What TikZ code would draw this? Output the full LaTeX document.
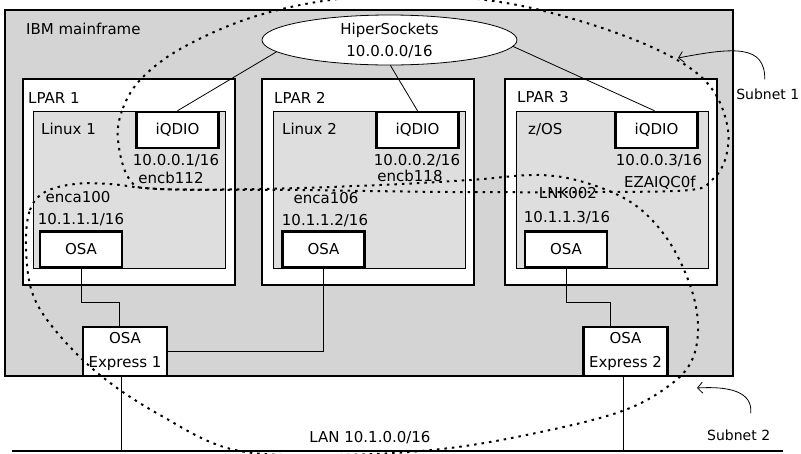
\documentclass[tikz,border=0pt]{standalone}
\usepackage{fontspec}
\setmainfont{DejaVu Sans}
\usepackage{tikz}
\usetikzlibrary{arrows.meta,positioning,shapes.geometric}
\definecolor{framegray}{RGB}{212,212,212}
\definecolor{osgray}{RGB}{222,222,222}

\begin{document}
\begin{tikzpicture}[
 x=1pt,y=-1pt,
 font=\fontsize{15}{18}\selectfont,
 mainbox/.style={draw,line width=2.5pt,fill=framegray},
 lpar/.style={draw,line width=2.5pt,fill=white,minimum width=212pt,minimum height=206pt},
 osbox/.style={draw,line width=.8pt,fill=osgray,minimum width=192pt,minimum height=157pt},
 dev/.style={draw,line width=2.5pt,fill=white,minimum width=82pt,minimum height=36pt,inner sep=0pt},
 card/.style={draw,line width=2.5pt,fill=white,minimum width=84pt,minimum height=49pt,
 inner sep=0pt,align=center,font=\fontsize{15}{24}\selectfont},
 hs/.style={ellipse,draw,line width=.8pt,fill=white,minimum width=255pt,minimum height=50pt,
 inner sep=0pt,align=center,font=\fontsize{15}{22}\selectfont},
 txt/.style={inner sep=0pt},
 note/.style={inner sep=0pt,font=\fontsize{14}{17}\selectfont},
 link/.style={line width=.8pt},
 subnet/.style={line width=2pt,dash pattern=on 2.5pt off 5pt},
 arr/.style={-{Straight Barb[length=5pt,width=11pt]},line width=.8pt}]
\clip (0,0) rectangle (801,453);

\node[mainbox,minimum width=728pt,minimum height=366pt] (ibm) at (369,193) {};
\node[txt,anchor=west] (ibmlbl) at (26,29) {IBM mainframe};
\node[hs] (hiper) at (389.5,40) {HiperSockets\\10.0.0.0/16};

% LPAR 1
\node[lpar] (lpar1) at (129,182) {};
\node[txt,anchor=west] (lpar1lbl) at (28,98) {LPAR 1};
\node[osbox] (linux1) at (129,189.5) {};
\node[txt,anchor=west] (linux1lbl) at (41,129) {Linux 1};
\node[dev] (iqdio1) at (177.5,130) {iQDIO};
\node[txt] (hsip1) at (176,161) {10.0.0.1/16};
\node[txt] (hsdev1) at (171,178) {encb112};
\node[txt] (osadev1) at (78,197) {enca100};
\node[txt] (osaip1) at (81,220) {10.1.1.1/16};
\node[dev] (osa1) at (81,249.5) {OSA};

% LPAR 2
\node[lpar] (lpar2) at (368,182) {};
\node[txt,anchor=west] (lpar2lbl) at (274,98) {LPAR 2};
\node[osbox] (linux2) at (369,189.5) {};
\node[txt,anchor=west] (linux2lbl) at (282,129) {Linux 2};
\node[dev] (iqdio2) at (417.5,130) {iQDIO};
\node[txt] (hsip2) at (417,161) {10.0.0.2/16};
\node[txt] (hsdev2) at (410,176) {encb118};
\node[txt] (osadev2) at (326,198) {enca106};
\node[txt] (osaip2) at (325,221) {10.1.1.2/16};
\node[dev] (osa2) at (323.5,249.5) {OSA};

% LPAR 3
\node[lpar] (lpar3) at (611,182) {};
\node[txt,anchor=west] (lpar3lbl) at (517,97) {LPAR 3};
\node[osbox] (zos) at (612,189.5) {};
\node[txt,anchor=west] (zoslbl) at (528,130) {z/OS};
\node[dev] (iqdio3) at (656.5,130) {iQDIO};
\node[txt] (hsip3) at (659,161) {10.0.0.3/16};
\node[txt] (hsdev3) at (660,183) {EZAIQC0f};
\node[txt] (osadev3) at (568,193) {LNK002};
\node[txt] (osaip3) at (567,218) {10.1.1.3/16};
\node[dev] (osa3) at (566,249.5) {OSA};

% OSA Express cards and LAN
\node[card] (osx1) at (125,351.5) {OSA\\Express 1};
\node[card] (osx2) at (625.5,351.5) {OSA\\Express 2};
\coordinate (lanw) at (12,451);
\coordinate (lane) at (783,451);
\node[txt] (lanlbl) at (370,438) {LAN 10.1.0.0/16};

\draw[link] (hiper.186) -- (iqdio1.north);
\draw[link] (hiper.272) -- (iqdio2.north);
\draw[link] (hiper.357) -- ([xshift=-2pt]iqdio3.north);
\draw[link] (osa1.south) -- ++(0,34) -| ([xshift=-6pt]osx1.north);
\draw[link] (osa2.south) |- (osx1.east);
\draw[link] (osa3.south) -- ++(0,34) -| ([xshift=-15pt]osx2.north);
\draw[line width=1.2pt] (lanw) -- (lane);
\draw[link] ([xshift=-4pt]osx1.south) -- ([xshift=-4pt]osx1.south |- lanw);
\draw[link] ([xshift=-2.5pt]osx2.south) -- ([xshift=-2.5pt]osx2.south |- lanw);

% subnets
\draw[subnet] plot[smooth cycle,tension=.6] coordinates {
 (118,140) (123,108) (142,78) (182,48) (250,18) (330,0) (420,-5) (500,2)
 (570,18) (640,42) (690,68) (716,95) (728,130) (725,160) (712,180)
 (690,190) (600,192) (450,192) (300,190) (160,189) (130,180)};
\draw[subnet] plot[smooth cycle,tension=.6] coordinates {
 (26,245) (30,210) (45,192) (75,184) (110,184) (160,189) (260,189)
 (380,185) (470,180) (540,175) (590,184) (635,205) (668,240) (690,285)
 (698,325) (692,360) (670,385) (625,410) (550,430) (450,448) (340,455)
 (235,450) (160,415) (100,375) (55,330) (32,292)};
\node[note,anchor=east] (sub1) at (799.5,94) {Subnet 1};
\node[note,anchor=west] (sub2) at (707,435) {Subnet 2};
\coordinate (sub1tip) at (678,58);
\coordinate (sub2tip) at (697,388);
\draw[arr] ([xshift=-3pt,yshift=9pt]sub1.north) .. controls (765,45) and (735,47) .. (sub1tip);
\draw[arr] ([xshift=12pt,yshift=16pt]sub2.north) .. controls (753,392) and (730,386) .. (sub2tip);
\end{tikzpicture}
\end{document}
